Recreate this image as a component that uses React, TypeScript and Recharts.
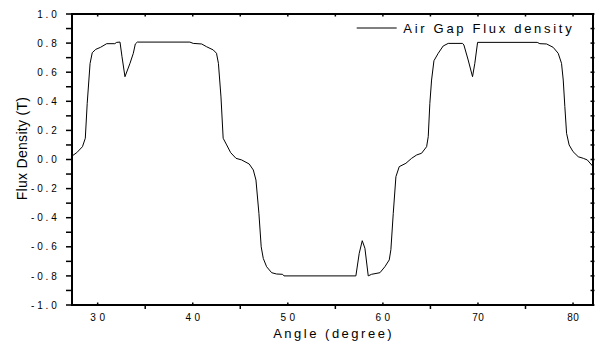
import { LineChart, Line, XAxis, YAxis, Legend } from 'recharts'

// angle (degree) and air-gap flux density (T)
const angles = [
  27.3, 27.8, 28.4, 28.7, 28.9, 29.2, 29.43, 29.8, 30.3, 30.95, 31.8, 32.0, 32.35, 32.56, 32.87, 33.4,
  33.75, 33.96, 34.17, 39.7, 40.05, 40.94, 41.46, 42.16, 42.5, 42.7, 42.97, 43.2, 43.57, 43.99, 44.55,
  45.14, 45.94, 46.37, 46.65, 46.96, 47.2, 47.42, 47.77, 48.3, 48.82, 49.45, 49.6, 57.16, 57.51, 57.83,
  58.11, 58.46, 58.81, 59.69, 60.21, 60.67, 60.84, 61.09, 61.37, 61.72, 62.42, 63.02, 63.55, 64.07,
  64.6, 64.77, 64.94, 65.12, 65.37, 65.82, 66.34, 66.87, 68.38, 68.52, 68.97, 69.43, 69.67, 69.96,
  76.23, 76.51, 77.22, 77.91, 78.44, 78.79, 78.97, 79.14, 79.32, 79.59, 80.0, 80.55, 81.08, 81.5, 82.06,
]
const flux = [
  0.024, 0.047, 0.088, 0.146, 0.386, 0.66, 0.734, 0.757, 0.771, 0.796, 0.796, 0.805, 0.807, 0.706, 0.569, 0.661,
  0.73, 0.794, 0.807, 0.807, 0.798, 0.794, 0.775, 0.753, 0.73, 0.661, 0.43, 0.146, 0.1, 0.047, 0.008,
  -0.003, -0.031, -0.072, -0.141, -0.37, -0.6, -0.68, -0.737, -0.778, -0.787, -0.789, -0.8, -0.8, -0.645, -0.558,
  -0.61, -0.8, -0.789, -0.778, -0.737, -0.69, -0.62, -0.37, -0.118, -0.049, -0.026, 0.008, 0.031, 0.043,
  0.088, 0.157, 0.386, 0.546, 0.679, 0.73, 0.78, 0.798, 0.798, 0.787, 0.684, 0.569, 0.661, 0.805,
  0.805, 0.796, 0.794, 0.771, 0.73, 0.661, 0.546, 0.363, 0.18, 0.1, 0.054, 0.019, 0.008, -0.003, -0.045,
]

const xTicks = [30, 35, 40, 45, 50, 55, 60, 65, 70, 75, 80]
const yTicks = [-1.0, -0.9, -0.8, -0.7, -0.6, -0.5, -0.4, -0.3, -0.2, -0.1, 0.0, 0.1, 0.2, 0.3, 0.4, 0.5, 0.6, 0.7, 0.8, 0.9, 1.0]
const xDomain = [27.3, 82.1]
const yDomain = [-1, 1]
const seriesName = 'Air Gap Flux density'

const FONT = '"Liberation Sans", Arial, sans-serif'

const data = angles.map((a, i) => ({ angle: a, flux: flux[i] }))

const isMajorY = (v: number) => Math.round(v * 10) % 2 === 0

function BottomTick(props: any) {
  const { x, y, payload } = props
  const v = payload.value
  const major = v % 10 === 0
  const spacing = v < 70 ? 3.5 : 0.5
  return (
    <g>
      <line x1={x} x2={x} y1={y} y2={major ? y - 2.5 : y + 4} stroke="#000" strokeWidth={1.5} />
      {major && (
        <text x={x + spacing / 2} y={y + 16} textAnchor="middle" fontSize={10} fontFamily={FONT} letterSpacing={spacing} fill="#000">
          {v}
        </text>
      )}
    </g>
  )
}

function TopTick(props: any) {
  const { x, y } = props
  return <line x1={x} x2={x} y1={y} y2={y + 2.5} stroke="#000" strokeWidth={1.5} />
}

function LeftTick(props: any) {
  const { x, y, payload } = props
  const v = payload.value
  return (
    <g>
      <line x1={x - 6} x2={x} y1={y} y2={y} stroke="#000" strokeWidth={1.5} />
      {isMajorY(v) && (
        <text x={x - 12.5} y={y + 3.6} textAnchor="end" fontSize={10} fontFamily={FONT} letterSpacing={2.8} fill="#000">
          {v.toFixed(1)}
        </text>
      )}
    </g>
  )
}

function RightTick(props: any) {
  const { x, y } = props
  return <line x1={x - 2.5} x2={x + 1.5} y1={y} y2={y} stroke="#000" strokeWidth={1.5} />
}

function LegendBox() {
  return (
    <svg width={240} height={22}>
      <line x1={6.7} x2={46.7} y1={10} y2={10} stroke="#000" strokeWidth={1} />
      <text x={53.3} y={15.3} fontSize={13} fontFamily={FONT} letterSpacing={2.7} fill="#000">
        {seriesName}
      </text>
    </svg>
  )
}

const axisLine = { stroke: '#000', strokeWidth: 2, strokeLinecap: 'square' as const }

export default function App() {
  return (
    <div style={{ position: 'absolute', left: 0, top: 0, width: 603, height: 345, background: '#fff' }}>
      <LineChart width={603} height={345} data={data} margin={{ top: 0, right: 0, bottom: 0, left: 32 }}>
        <XAxis
          dataKey="angle"
          type="number"
          domain={xDomain}
          ticks={xTicks}
          allowDataOverflow
          height={40}
          tickSize={0}
          tickMargin={0}
          tickLine={false}
          axisLine={axisLine}
          tick={BottomTick}
          interval={0}
          label={{
            content: (p: any) => (
              <text
                x={p.viewBox.x + p.viewBox.width / 2 + 1.2}
                y={338}
                textAnchor="middle"
                fontSize={13}
                fontFamily={FONT}
                letterSpacing={2.5}
                fill="#000"
              >
                Angle (degree)
              </text>
            ),
          }}
        />
        <XAxis
          xAxisId="top"
          orientation="top"
          dataKey="angle"
          type="number"
          domain={xDomain}
          ticks={xTicks}
          allowDataOverflow
          height={14}
          tickSize={0}
          tickMargin={0}
          tickLine={false}
          axisLine={axisLine}
          tick={TopTick}
          interval={0}
        />
        <YAxis
          type="number"
          domain={yDomain}
          ticks={yTicks}
          allowDataOverflow
          width={40}
          tickSize={0}
          tickMargin={0}
          tickLine={false}
          axisLine={axisLine}
          tick={LeftTick}
          interval={0}
          label={{
            content: () => (
              <text
                x={27}
                y={148.5}
                transform="rotate(-90, 27, 148.5)"
                textAnchor="middle"
                fontSize={14}
                fontFamily={FONT}
                letterSpacing={0.3}
                fill="#000"
              >
                Flux Density (T)
              </text>
            ),
          }}
        />
        <YAxis
          yAxisId="right"
          orientation="right"
          type="number"
          domain={yDomain}
          ticks={yTicks}
          allowDataOverflow
          width={10}
          tickSize={0}
          tickMargin={0}
          tickLine={false}
          axisLine={axisLine}
          tick={RightTick}
          interval={0}
        />
        <Legend
          layout="horizontal"
          verticalAlign="middle"
          align="center"
          wrapperStyle={{ left: 350, top: 18, width: 240, height: 22 }}
          content={LegendBox}
        />
        <Line
          dataKey="flux"
          name={seriesName}
          type="linear"
          stroke="#000"
          strokeWidth={1}
          dot={false}
          activeDot={false}
          isAnimationActive={false}
        />
      </LineChart>
    </div>
  )
}
